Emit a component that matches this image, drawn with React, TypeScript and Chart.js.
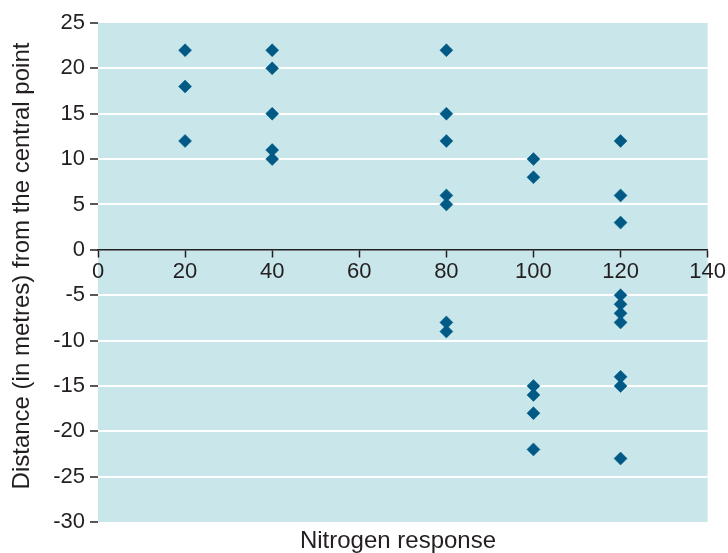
import React, { useEffect, useRef } from "react";
import { Chart, registerables } from "chart.js";

Chart.register(...registerables);

const nitrogenRates = [20, 20, 20, 40, 40, 40, 40, 40, 80, 80, 80, 80, 80, 80, 80, 100, 100, 100, 100, 100, 100, 120, 120, 120, 120, 120, 120, 120, 120, 120, 120];
const distances = [22, 18, 12, 22, 20, 15, 11, 10, 22, 15, 12, 6, 5, -8, -9, 10, 8, -15, -16, -18, -22, 12, 6, 3, -5, -6, -7, -8, -14, -15, -23];
const xTitle = "Nitrogen response";
const yTitle = "Distance (in metres) from the central point";

const FONT = "Arial, 'Liberation Sans', sans-serif";
const TEXT = "#231f20";
const BG = "#c9e7ea";
const MARK = "#005a85";

export default function App() {
  const ref = useRef<HTMLCanvasElement>(null);
  useEffect(() => {
    if (!ref.current) return;
    const bgPlugin = {
      id: "bg",
      beforeDraw(chart: any) {
        const { ctx, chartArea } = chart;
        ctx.save();
        ctx.fillStyle = BG;
        ctx.fillRect(chartArea.left, chartArea.top, chartArea.right - chartArea.left, chartArea.bottom - chartArea.top);
        ctx.restore();
      },
      afterDraw(chart: any) {
        const { ctx } = chart;
        ctx.save();
        ctx.fillStyle = TEXT;
        ctx.font = `24px ${FONT}`;
        ctx.textAlign = "center";
        ctx.textBaseline = "alphabetic";
        ctx.fillText(xTitle, 398, 548);
        ctx.translate(29, 266);
        ctx.rotate(-Math.PI / 2);
        ctx.fillText(yTitle, 0, 0);
        ctx.restore();
      },
    };
    const chart = new Chart(ref.current, {
      type: "scatter",
      data: {
        datasets: [
          {
            data: nitrogenRates.map((x, i) => ({ x, y: distances[i] })),
            pointStyle: "rectRot",
            pointRadius: 6.5,
            pointBackgroundColor: MARK,
            pointBorderColor: MARK,
            pointBorderWidth: 0.5,
          },
        ],
      },
      options: {
        animation: false,
        responsive: false,
        devicePixelRatio: 1,
        layout: { padding: { top: 23, right: 20, bottom: 31, left: 0 } },
        plugins: { legend: { display: false }, tooltip: { enabled: false } },
        scales: {
          x: {
            type: "linear",
            position: { y: 0 } as any,
            min: 0,
            max: 140,
            ticks: { stepSize: 20, color: TEXT, font: { family: FONT, size: 22 }, padding: 2, maxRotation: 0 },
            grid: { drawOnChartArea: false, drawTicks: true, tickLength: 7, tickColor: TEXT, tickWidth: 1.5 },
            border: { display: true, color: TEXT, width: 1.5 },
          },
          y: {
            type: "linear",
            min: -30,
            max: 25,
            afterFit(scale: any) {
              scale.width = 98;
            },
            ticks: { stepSize: 5, color: TEXT, font: { family: FONT, size: 22 }, padding: 5 },
            grid: {
              color: (c: any) => (c.tick && (c.tick.value === -30 || c.tick.value === 25 || c.tick.value === 0) ? "rgba(0,0,0,0)" : "#ffffff"),
              lineWidth: 2,
              drawTicks: true,
              tickLength: 8,
              tickColor: TEXT,
              tickWidth: 1.5,
            },
            border: { display: false },
          },
        },
      },
      plugins: [bgPlugin],
    });
    return () => chart.destroy();
  }, []);
  return (
    <div style={{ position: "fixed", left: 0, top: 0, width: 728, height: 553, background: "#fff" }}>
      <canvas ref={ref} width={728} height={553} style={{ width: 728, height: 553, display: "block" }} />
    </div>
  );
}
